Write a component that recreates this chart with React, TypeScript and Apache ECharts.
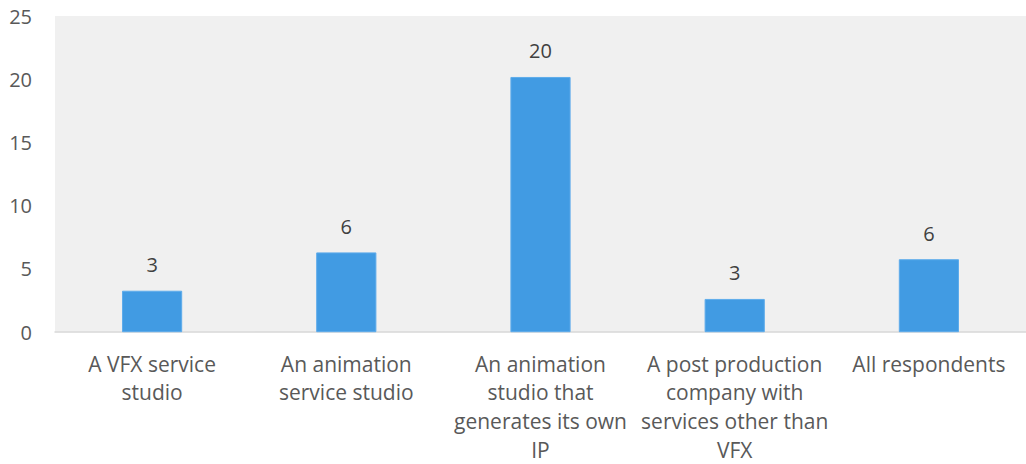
import React, { useEffect, useRef } from "react";
import * as echarts from "echarts";

const categories = [
  "A VFX service\nstudio",
  "An animation\nservice studio",
  "An animation\nstudio that\ngenerates its own\nIP",
  "A post production\ncompany with\nservices other than\nVFX",
  "All respondents",
];
const values = [3.28, 6.31, 20.18, 2.63, 5.77];
const yTicks = { min: 0, max: 25, interval: 5 };

const FONT = "'Open Sans', 'Noto Sans', sans-serif";

export default function App() {
  const ref = useRef<HTMLDivElement>(null);
  useEffect(() => {
    if (!ref.current) return;
    const chart = echarts.init(ref.current, undefined, { renderer: "svg" });
    chart.setOption({
      animation: false,
      backgroundColor: "#ffffff",
      grid: {
        left: 55,
        top: 16,
        width: 980,
        height: 321,
        containLabel: false,
        show: true,
        backgroundColor: "#f0f0f0",
        borderWidth: 0,
      },
      xAxis: {
        type: "category",
        data: categories,
        axisLine: { show: true, lineStyle: { color: "#d9d9d9", width: 1.5 } },
        axisTick: { show: false },
        axisLabel: {
          interval: 0,
          margin: 17,
          fontFamily: FONT,
          fontSize: 21,
          lineHeight: 28.7,
          color: "#595959",
          align: "center",
        },
      },
      yAxis: {
        type: "value",
        min: yTicks.min,
        max: yTicks.max,
        interval: yTicks.interval,
        splitLine: { show: false },
        axisLine: { show: false },
        axisTick: { show: false },
        axisLabel: {
          margin: 23,
          fontFamily: FONT,
          fontSize: 20,
          color: "#595959",
        },
      },
      series: [
        {
          type: "bar",
          data: values,
          barWidth: "31%",
          itemStyle: { color: "#419be3", borderColor: "#5eaceb", borderWidth: 1 },
          label: {
            show: true,
            position: "top",
            distance: 16,
            fontFamily: FONT,
            fontSize: 20,
            color: "#404040",
            formatter: (p: any) => Math.round(p.value).toString(),
          },
        },
      ],
    });
    return () => chart.dispose();
  }, []);
  return (
    <div
      ref={ref}
      style={{ position: "fixed", left: 0, top: 0, width: 1026, height: 464 }}
    />
  );
}
